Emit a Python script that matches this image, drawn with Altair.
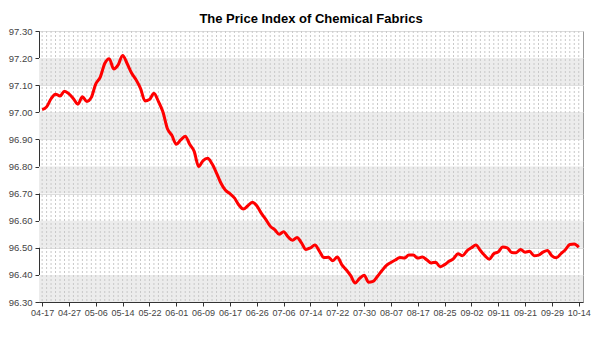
import altair as alt
import pandas as pd

# Price index values, one per trading day
values = [
    97.010, 97.020, 97.050, 97.067, 97.060, 97.078, 97.068, 97.050, 97.030, 97.057,
    97.040, 97.055, 97.105, 97.130, 97.180, 97.198, 97.160, 97.175, 97.210, 97.180,
    97.145, 97.120, 97.088, 97.042, 97.047, 97.070, 97.040, 97.002, 96.940, 96.915,
    96.882, 96.898, 96.912, 96.882, 96.856, 96.800, 96.822, 96.830, 96.810, 96.776,
    96.738, 96.712, 96.700, 96.684, 96.658, 96.643, 96.655, 96.668, 96.655, 96.628,
    96.605, 96.580, 96.567, 96.550, 96.559, 96.540, 96.528, 96.538, 96.518, 96.494,
    96.500, 96.510, 96.488, 96.464, 96.465, 96.452, 96.466, 96.438, 96.419, 96.397,
    96.370, 96.387, 96.399, 96.373, 96.376, 96.395, 96.416, 96.435, 96.446, 96.455,
    96.464, 96.462, 96.473, 96.473, 96.462, 96.466, 96.456, 96.444, 96.447, 96.430,
    96.438, 96.450, 96.460, 96.478, 96.471, 96.489, 96.500, 96.510, 96.490, 96.471,
    96.458, 96.478, 96.485, 96.503, 96.500, 96.483, 96.482, 96.494, 96.484, 96.487,
    96.471, 96.473, 96.484, 96.490, 96.470, 96.463, 96.478, 96.493, 96.512, 96.514,
    96.502,
]

tick_labels = ["04-17", "04-27", "05-06", "05-14", "05-22", "06-01", "06-09",
               "06-17", "06-26", "07-06", "07-14", "07-22", "07-30", "08-07",
               "08-17", "08-25", "09-02", "09-11", "09-21", "09-29", "10-14"]
label_step = 6

y_ticks = [96.30, 96.40, 96.50, 96.60, 96.70, 96.80, 96.90, 97.00, 97.10, 97.20, 97.30]
band_lo = [96.30, 96.50, 96.70, 96.90, 97.10]
band_hi = [96.40, 96.60, 96.80, 97.00, 97.20]

df = pd.DataFrame({"idx": list(range(len(values))), "value": values})
bands = pd.DataFrame({"lo": band_lo, "hi": band_hi})

W, H = 544, 271
n = len(values)
xscale = alt.Scale(domain=[-0.7, n - 1 + 0.95], nice=False, zero=False)
yscale = alt.Scale(domain=[y_ticks[0], y_ticks[-1]], nice=False, zero=False)

label_arr = "[" + ",".join('"%s"' % s for s in tick_labels) + "]"

x_axis = alt.Axis(values=[i * label_step for i in range(len(tick_labels))],
                  labelExpr=label_arr + "[round(datum.value/" + str(label_step) + ")]",
                  grid=False, tickSize=4, labelPadding=2, labelOverlap=False,
                  labelFontSize=9)
y_axis = alt.Axis(values=y_ticks, format=".2f", grid=True, gridColor="#dddddd",
                  tickSize=4, labelPadding=3, labelOverlap=False, labelFontSize=9.5)

band_layer = alt.Chart(bands).mark_rect(color="#ececec").encode(
    y=alt.Y("lo:Q", scale=yscale, title=None, axis=y_axis),
    y2="hi:Q",
    x=alt.value(0),
    x2=alt.value(W),
)

vgrid = alt.Chart(df).mark_rule(color="#c8c8c8", strokeDash=[2, 2], strokeWidth=1).encode(
    x=alt.X("idx:Q", scale=xscale, title=None, axis=x_axis)
)

line = alt.Chart(df).mark_line(color="#ff0000", strokeWidth=3, interpolate="monotone").encode(
    x=alt.X("idx:Q", scale=xscale, title=None, axis=x_axis),
    y=alt.Y("value:Q", scale=yscale, title=None, axis=y_axis),
)

chart = alt.layer(band_layer, vgrid, line).properties(
    width=W, height=H,
    title=alt.TitleParams("The Price Index of Chemical Fabrics", font="Liberation Sans",
                          fontSize=13, fontWeight="bold", color="#000000",
                          anchor="middle", offset=0),
    autosize=alt.AutoSizeParams(type="none"),
    padding={"left": 39, "top": 31, "right": 17, "bottom": 48},
    background="white",
).configure_view(stroke="#999999").configure_axis(
    labelOverlap=False, labelFont="Liberation Sans",
    labelColor="#444444", domainColor="#333333", tickColor="#333333",
)

chart.save("out.html", embed_options={"renderer": "svg", "actions": False})
